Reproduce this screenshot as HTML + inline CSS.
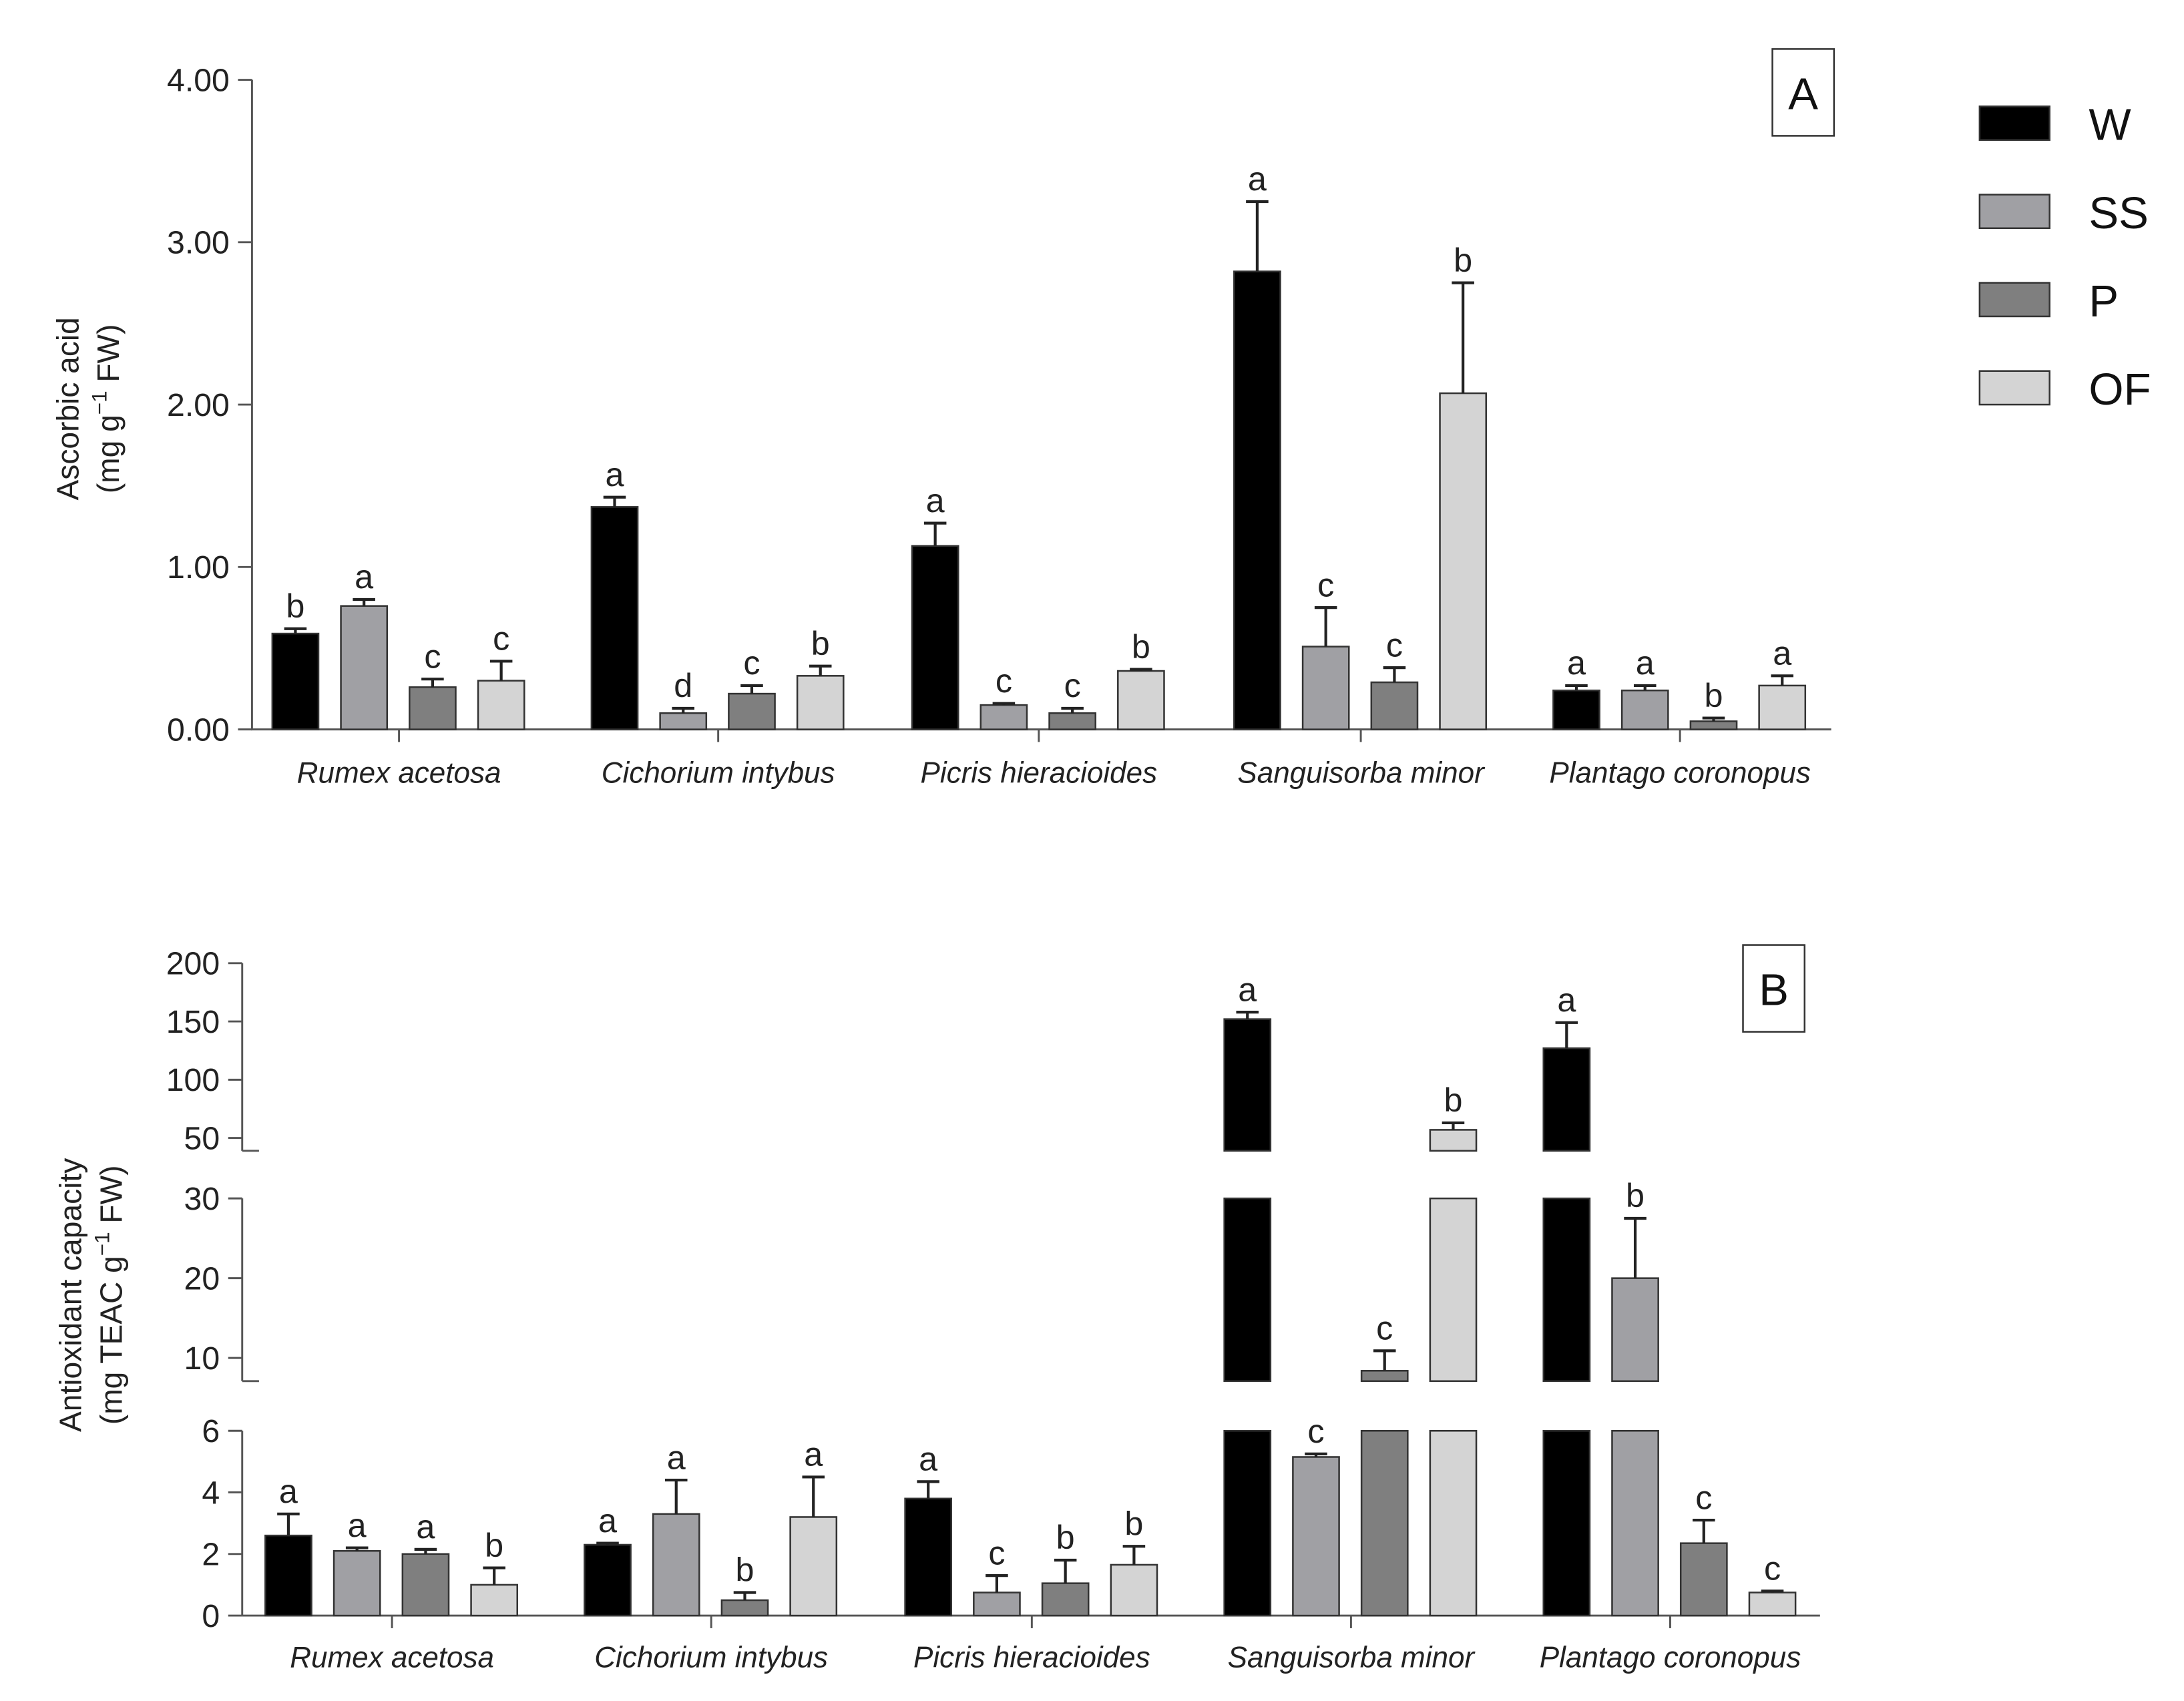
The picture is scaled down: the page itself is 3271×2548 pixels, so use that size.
<!DOCTYPE html>
<html><head><meta charset="utf-8"><style>
html,body{margin:0;padding:0;background:#fff}
svg{display:block;font-family:"Liberation Sans",Arial,sans-serif}
</style></head><body>
<svg id="chart" width="3271" height="2548" viewBox="0 0 1560 1215" preserveAspectRatio="none" xmlns="http://www.w3.org/2000/svg"></svg>
<script>
const species = ["Rumex acetosa","Cichorium intybus","Picris hieracioides","Sanguisorba minor","Plantago coronopus"];
const treatments = ["W","SS","P","OF"];
const colors = ["#000000","#a0a0a4","#7f7f7f","#d4d4d4"];
// Panel A: ascorbic acid (mg/g FW), per treatment across species
const aW  = [0.59,1.37,1.13,2.82,0.24];
const aSS = [0.76,0.10,0.15,0.51,0.24];
const aP  = [0.26,0.22,0.10,0.29,0.05];
const aOF = [0.30,0.33,0.36,2.07,0.27];
const aErrW  = [0.03,0.06,0.14,0.43,0.03];
const aErrSS = [0.04,0.03,0.01,0.24,0.03];
const aErrP  = [0.05,0.05,0.03,0.09,0.02];
const aErrOF = [0.12,0.06,0.01,0.68,0.06];
const aLetW  = ["b","a","a","a","a"];
const aLetSS = ["a","d","c","c","a"];
const aLetP  = ["c","c","c","c","b"];
const aLetOF = ["c","b","b","b","a"];
const aTicks = [0,1,2,3,4];
const aTickLabels = ["0.00","1.00","2.00","3.00","4.00"];
// Panel B: antioxidant capacity (mg TEAC/g FW)
const bW  = [2.6,2.3,3.8,152,127];
const bSS = [2.1,3.3,0.75,5.15,20];
const bP  = [2.0,0.5,1.05,8.4,2.35];
const bOF = [1.0,3.2,1.65,57,0.75];
const bErrW  = [0.7,0.05,0.55,6,22];
const bErrSS = [0.1,1.1,0.55,0.1,7.5];
const bErrP  = [0.15,0.25,0.75,2.5,0.75];
const bErrOF = [0.55,1.3,0.6,6,0.05];
const bLetW  = ["a","a","a","a","a"];
const bLetSS = ["a","a","c","c","b"];
const bLetP  = ["a","b","b","c","c"];
const bLetOF = ["b","a","b","b","c"];
const bTicks = [0,2,4,6,10,20,30,50,100,150,200];

const NS="http://www.w3.org/2000/svg";
const svg=document.getElementById('chart');
function el(tag,attrs,parent,text){const e=document.createElementNS(NS,tag);for(const k in attrs)e.setAttribute(k,attrs[k]);if(text!==undefined)e.textContent=text;(parent||svg).appendChild(e);return e;}
const offs=[-74,-25,24,73], bw=33;

// ---------- Panel A ----------
const gA=el('g',{});


const yA=v=>521-v*116;
const axA=el('path',{d:'M180 57 V521 H1308',stroke:'#555','stroke-width':1.4,fill:'none'},gA);


aTicks.forEach((t,i)=>{
  el('line',{x1:170,x2:180,y1:yA(t),y2:yA(t),stroke:'#555','stroke-width':1.4},gA);
  const tl=el('text',{x:164,y:yA(t)+8,'text-anchor':'end','font-size':23,fill:'#222'},gA,aTickLabels[i]);
  
  
});
const centersA=[285,513,742,972,1200];
const aVals=[aW,aSS,aP,aOF], aErrs=[aErrW,aErrSS,aErrP,aErrOF], aLets=[aLetW,aLetSS,aLetP,aLetOF];
species.forEach((s,i)=>{
  el('line',{x1:centersA[i],x2:centersA[i],y1:521,y2:530,stroke:'#555','stroke-width':1.4},gA);
  const cl=el('text',{x:centersA[i],y:559,'text-anchor':'middle','font-size':21,'font-style':'italic',fill:'#222'},gA,s);
  
  
  for(let t=0;t<4;t++){
    const v=aVals[t][i], e=aErrs[t][i], x=centersA[i]+offs[t];
    const r=el('rect',{x:x-bw/2,y:yA(v),width:bw,height:521-yA(v),fill:colors[t],stroke:'#333','stroke-width':1.2},gA);
    
    
    el('path',{d:`M${x} ${yA(v)} V${yA(v+e)} M${x-8} ${yA(v+e)} H${x+8}`,stroke:'#222','stroke-width':2,fill:'none'},gA);
    const lt=el('text',{x:x,y:yA(v+e)-8,'text-anchor':'middle','font-size':24,fill:'#222'},gA,aLets[t][i]);
    
    
  }
});
const ytA=el('text',{transform:'translate(56,292) rotate(-90)','text-anchor':'middle','font-size':22,fill:'#222'},gA,'Ascorbic acid');


const ytA2=el('text',{transform:'translate(85,292) rotate(-90)','text-anchor':'middle','font-size':22,fill:'#222'},gA);
ytA2.innerHTML='(mg g<tspan dy="-9" font-size="15">−1</tspan><tspan dy="9"> FW)</tspan>';


el('rect',{x:1266,y:35,width:44,height:62,fill:'#fff',stroke:'#333','stroke-width':1.2},gA);
const lA=el('text',{x:1288,y:78,'text-anchor':'middle','font-size':32,fill:'#111'},gA,'A');



// legend
const gL=el('g',{});


treatments.forEach((t,i)=>{
  const yc=88+i*63;
  const sw=el('rect',{x:1414,y:yc-12,width:50,height:24,fill:colors[i],stroke:'#333','stroke-width':1.2},gL);
  
  
  const tx=el('text',{x:1492,y:yc+12,'font-size':32,fill:'#111'},gL,t);
  
  
});

// ---------- Panel B ----------
const gB=el('g',{});


const segs=[{d0:0,d1:6,p0:1154,p1:1022},{d0:7.1,d1:30,p0:986.5,p1:856},{d0:39,d1:200,p0:822,p1:688}];
function segY(sg,v){return sg.p0+(v-sg.d0)*(sg.p1-sg.p0)/(sg.d1-sg.d0);}
function yB(v){for(const sg of segs){if(v<=sg.d1+1e-9&&v>=sg.d0-1e-9)return segY(sg,v);}
  if(v<segs[1].d0)return segs[0].p1; if(v<segs[2].d0)return segs[1].p1; return segs[2].p1;}
const axX=173;
segs.forEach((sg,k)=>{
  el('line',{x1:axX,x2:axX,y1:sg.p0,y2:sg.p1,stroke:'#555','stroke-width':1.4},gB);
  if(k>0) el('line',{x1:axX,x2:axX+12,y1:sg.p0,y2:sg.p0,stroke:'#555','stroke-width':1.4},gB);
});
bTicks.forEach(t=>{
  const y=yB(t);
  el('line',{x1:axX-10,x2:axX,y1:y,y2:y,stroke:'#555','stroke-width':1.4},gB);
  const tl=el('text',{x:axX-16,y:y+8,'text-anchor':'end','font-size':23,fill:'#222'},gB,String(t));
  
  
});
const axB=el('line',{x1:axX,x2:1300,y1:1154,y2:1154,stroke:'#555','stroke-width':1.4},gB);


const centersB=[280,508,737,965,1193];
const bVals=[bW,bSS,bP,bOF], bErrs=[bErrW,bErrSS,bErrP,bErrOF], bLets=[bLetW,bLetSS,bLetP,bLetOF];
species.forEach((s,i)=>{
  el('line',{x1:centersB[i],x2:centersB[i],y1:1154,y2:1163,stroke:'#555','stroke-width':1.4},gB);
  const cl=el('text',{x:centersB[i],y:1191,'text-anchor':'middle','font-size':21,'font-style':'italic',fill:'#222'},gB,s);
  
  
  for(let t=0;t<4;t++){
    const v=bVals[t][i], e=bErrs[t][i], x=centersB[i]+offs[t];
    segs.forEach(sg=>{
      if(v<=sg.d0) return;
      const top=segY(sg,Math.min(v,sg.d1)), bot=sg.p0;
      const r=el('rect',{x:x-bw/2,y:top,width:bw,height:bot-top,fill:colors[t],stroke:'#333','stroke-width':1.2},gB);
      
      
    });
    const yt=yB(v), ye=yB(v+e);
    el('path',{d:`M${x} ${yt} V${ye} M${x-8} ${ye} H${x+8}`,stroke:'#222','stroke-width':2,fill:'none'},gB);
    const lt=el('text',{x:x,y:ye-8,'text-anchor':'middle','font-size':24,fill:'#222'},gB,bLets[t][i]);
    
    
  }
});
const ytB=el('text',{transform:'translate(58,925) rotate(-90)','text-anchor':'middle','font-size':22,fill:'#222'},gB,'Antioxidant capacity');


const ytB2=el('text',{transform:'translate(87,925) rotate(-90)','text-anchor':'middle','font-size':22,fill:'#222'},gB);
ytB2.innerHTML='(mg TEAC g<tspan dy="-9" font-size="15">−1</tspan><tspan dy="9"> FW)</tspan>';


el('rect',{x:1245,y:675,width:44,height:62,fill:'#fff',stroke:'#333','stroke-width':1.2},gB);
const lB=el('text',{x:1267,y:718,'text-anchor':'middle','font-size':32,fill:'#111'},gB,'B');


</script>
</body></html>
